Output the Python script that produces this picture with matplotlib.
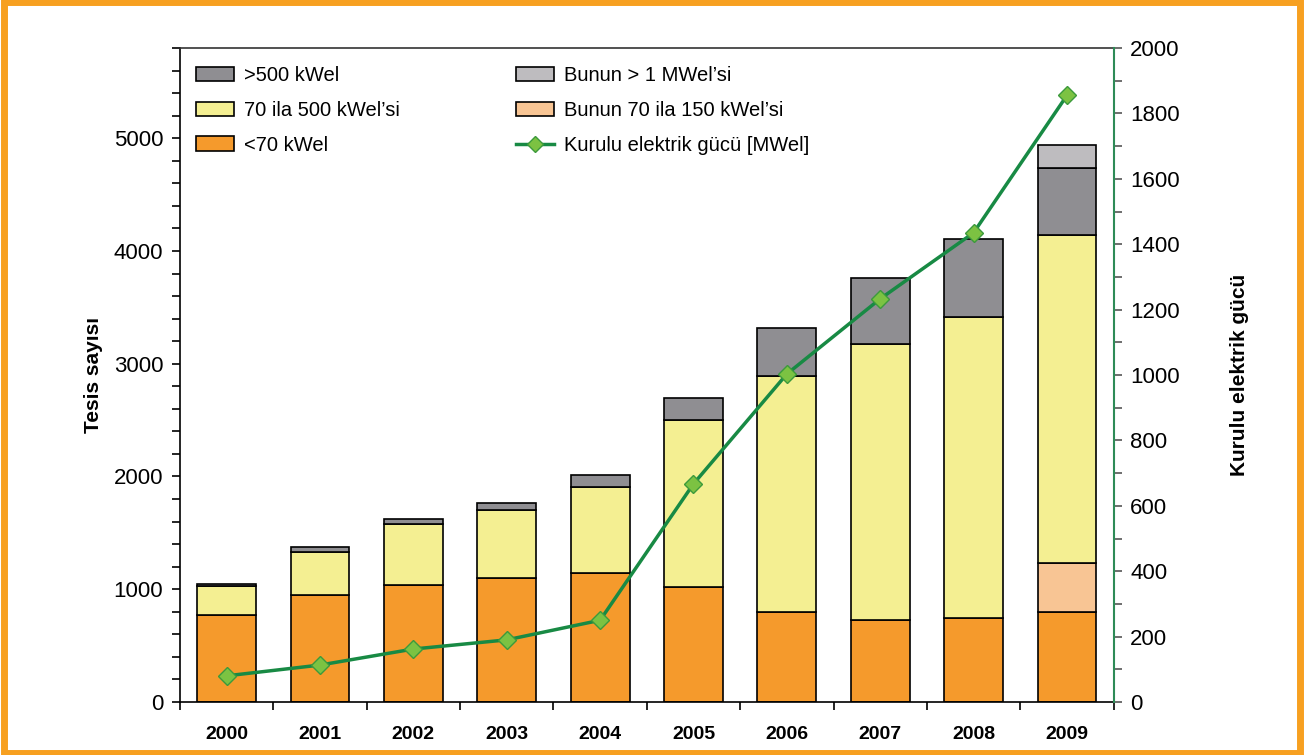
import numpy as np
import matplotlib.pyplot as plt
from matplotlib.patches import Rectangle
from matplotlib.lines import Line2D
from matplotlib.ticker import MultipleLocator

plt.rcParams['font.family'] = ['Liberation Sans', 'DejaVu Sans']

years = ['2000', '2001', '2002', '2003', '2004', '2005', '2006', '2007', '2008', '2009']
under_70 = [770, 950, 1038, 1100, 1145, 1020, 798, 727, 745, 800]
range_70_500 = [260, 380, 541, 603, 762, 1481, 2093, 2448, 2669, 3341]
over_500 = [18, 45, 45, 62, 105, 195, 425, 585, 690, 800]
# subsets ("bunun") only reported for 2009
of_which_70_150 = [0, 0, 0, 0, 0, 0, 0, 0, 0, 430]
of_which_over_1mw = [0, 0, 0, 0, 0, 0, 0, 0, 0, 205]
power_mwel = [80, 113, 162, 190, 250, 667, 1003, 1233, 1435, 1855]

c_orange = '#F59A2C'
c_yellow = '#F4EF92'
c_dark = '#8F8E92'
c_light = '#BEBCBF'
c_peach = '#F8C594'
c_line = '#188A44'
c_marker = '#7CC242'

fig = plt.figure(figsize=(13.04, 7.55), dpi=100)
fig.patches.append(Rectangle((0.003, 0.003), 0.994, 0.994, transform=fig.transFigure,
                             fill=False, edgecolor='#F7A020', linewidth=5))
ax = fig.add_axes([0.138, 0.0702, 0.716, 0.8662])

x = np.arange(len(years))
w = 0.63
edge = dict(edgecolor='black', linewidth=1.2)
u70 = np.array(under_70)
r70 = np.array(range_70_500)
o500 = np.array(over_500)
s150 = np.array(of_which_70_150)
s1mw = np.array(of_which_over_1mw)

ax.bar(x, u70, w, color=c_orange, **edge)
b = u70.copy()
m = s150 > 0
ax.bar(x[m], s150[m], w, bottom=b[m], color=c_peach, **edge)
b = b + s150
ax.bar(x, r70 - s150, w, bottom=b, color=c_yellow, **edge)
b = u70 + r70
ax.bar(x, o500 - s1mw, w, bottom=b, color=c_dark, **edge)
b = b + o500 - s1mw
m = s1mw > 0
ax.bar(x[m], s1mw[m], w, bottom=b[m], color=c_light, **edge)

ax.set_xlim(-0.5, len(years) - 0.5)
ax.set_ylim(0, 5800)
ax.yaxis.set_major_locator(MultipleLocator(1000))
ax.yaxis.set_minor_locator(MultipleLocator(200))
ax.set_xticks(x)
ax.set_xticklabels(years, fontsize=14, fontweight='bold')
ax.set_xticks(np.arange(-0.5, len(years), 1.0), minor=True)
ax.tick_params(axis='x', which='major', length=0, pad=17)
ax.tick_params(axis='x', which='minor', length=6, direction='out', width=1.2)
ax.tick_params(axis='y', which='both', length=6, direction='out', width=1.2, labelsize=16, pad=6)
ax.set_ylabel('Tesis sayısı', fontsize=15, fontweight='bold', labelpad=8)
for s in ax.spines.values():
    s.set_linewidth(1.2)
ax.spines['top'].set_color('#333333')
ax.spines['right'].set_visible(False)

ax2 = ax.twinx()
ax2.plot(x, power_mwel, color=c_line, linewidth=2.5, marker='D', markersize=9,
         markerfacecolor=c_marker, markeredgecolor='#3C9A3C', markeredgewidth=1)
ax2.set_ylim(0, 2000)
ax2.yaxis.set_major_locator(MultipleLocator(200))
ax2.yaxis.set_minor_locator(MultipleLocator(100))
ax2.tick_params(axis='y', which='both', length=6, direction='out', width=1.2, labelsize=16,
                color='#555555', pad=6)
ax2.spines['right'].set_color('#2E8B57')
ax2.spines['right'].set_linewidth(1.5)
for k in ('top', 'left', 'bottom'):
    ax2.spines[k].set_visible(False)
ax2.set_ylabel('Kurulu elektrik gücü', fontsize=15, fontweight='bold', labelpad=36)

handles = [
    Rectangle((0, 0), 1, 1, facecolor=c_dark, **edge),
    Rectangle((0, 0), 1, 1, facecolor=c_yellow, **edge),
    Rectangle((0, 0), 1, 1, facecolor=c_orange, **edge),
    Rectangle((0, 0), 1, 1, facecolor=c_light, **edge),
    Rectangle((0, 0), 1, 1, facecolor=c_peach, **edge),
    Line2D([], [], color=c_line, linewidth=2.5, marker='D', markersize=8,
           markerfacecolor=c_marker, markeredgecolor='#3C9A3C'),
]
labels = ['>500 kWel', '70 ila 500 kWel’si', '<70 kWel',
          'Bunun > 1 MWel’si', 'Bunun 70 ila 150 kWel’si', 'Kurulu elektrik gücü [MWel]']
ax2.legend(handles, labels, ncol=2, loc='upper left', bbox_to_anchor=(-0.002, 1.0),
           frameon=False, fontsize=14.5, handlelength=1.9, handleheight=0.7,
           columnspacing=5.8, labelspacing=0.78, handletextpad=0.45)

fig.savefig('out.png', dpi=100)
